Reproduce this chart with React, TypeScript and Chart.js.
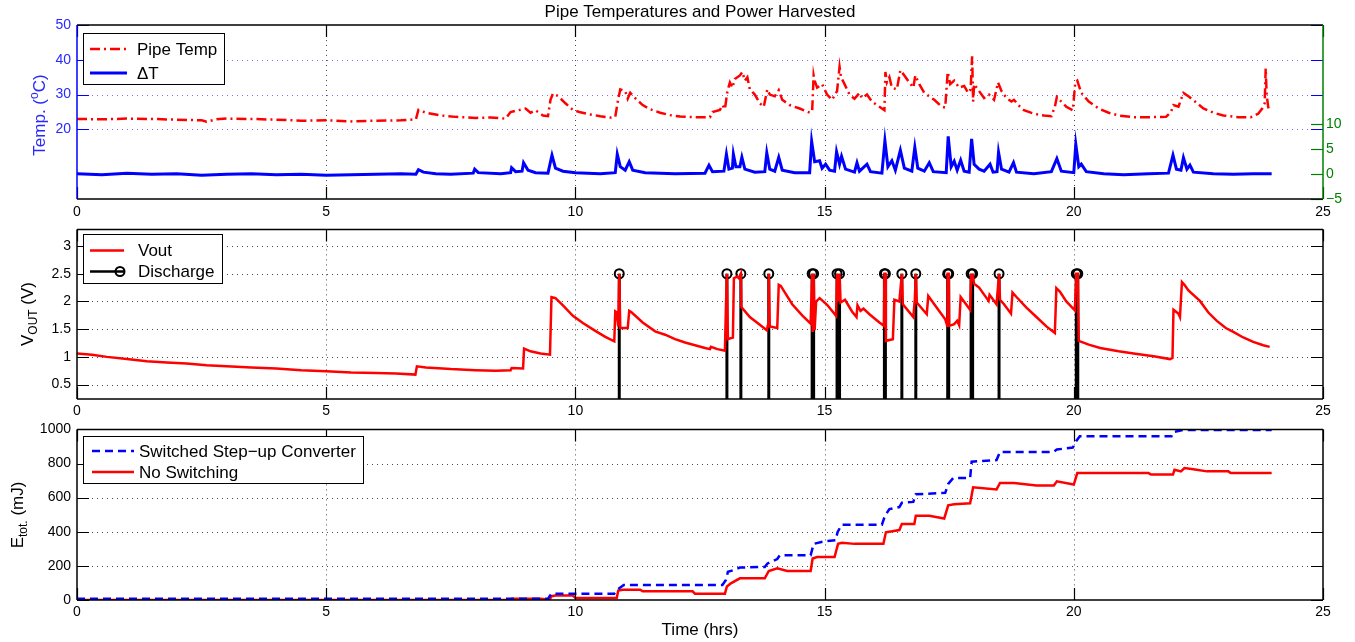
import React, { useEffect, useRef } from "react";
import { Chart, registerables } from "chart.js";
Chart.register(...registerables);

const FONT = '"Liberation Sans", Arial, Helvetica, sans-serif';
const W = 1355;

const chartTitle = "Pipe Temperatures and Power Harvested";
const xAxisLabel = "Time (hrs)";
const xTickValues = [0, 5, 10, 15, 20, 25];
const tempTickValues = [20, 30, 40, 50];
const deltaTickValues = [-5, 0, 5, 10];
const voutTickValues = [0.5, 1, 1.5, 2, 2.5, 3];
const energyTickValues = [0, 200, 400, 600, 800, 1000];

// [time (hrs), pipe temperature (C)]
const pipeTemp: [number, number][] = [
  [0, 23.0], [0.5, 22.9], [1.0, 23.1], [1.5, 23.0], [2.0, 22.8], [2.5, 22.6], [2.6, 22.2], [2.8, 22.9],
  [3.0, 23.1], [3.5, 23.0], [4.0, 22.8], [4.5, 22.5], [5.0, 22.6], [5.5, 22.3], [6.0, 22.5], [6.5, 22.6],
  [6.8, 22.9], [6.85, 25.6], [7.0, 24.8], [7.3, 24.0], [7.6, 23.6], [8.0, 23.3], [8.3, 23.4], [8.6, 23.1],
  [8.7, 25.0], [8.85, 25.5], [9.0, 26.0], [9.1, 24.8], [9.2, 25.5], [9.35, 24.0], [9.45, 23.8], [9.5, 28.5],
  [9.55, 30.3], [9.65, 29.6], [9.8, 27.5], [9.95, 25.6], [10.1, 24.9], [10.3, 24.3], [10.5, 23.8], [10.7, 23.4],
  [10.8, 23.6], [10.85, 28.0], [10.9, 31.5], [11.0, 31.0], [11.05, 28.8], [11.1, 30.5], [11.2, 29.0], [11.35, 27.0],
  [11.5, 25.8], [11.7, 24.8], [11.9, 24.1], [12.1, 23.7], [12.4, 23.5], [12.7, 23.5], [12.75, 25.0], [12.9, 25.6],
  [12.95, 27.0], [13.0, 25.8], [13.05, 31.0], [13.1, 33.5], [13.15, 32.0], [13.2, 34.5], [13.3, 35.5], [13.35, 36.5],
  [13.4, 34.0], [13.45, 35.0], [13.5, 31.5], [13.6, 30.0], [13.7, 27.5], [13.78, 26.5], [13.85, 31.5], [13.9, 30.0],
  [14.0, 29.5], [14.08, 31.3], [14.15, 28.5], [14.3, 27.0], [14.5, 26.0], [14.7, 24.8], [14.75, 25.2], [14.78, 35.5],
  [14.8, 34.0], [14.85, 32.0], [14.95, 33.0], [15.05, 30.0], [15.15, 28.5], [15.25, 31.0], [15.3, 38.0], [15.33, 35.0],
  [15.4, 33.0], [15.5, 30.0], [15.6, 28.8], [15.7, 30.5], [15.75, 29.0], [15.85, 30.0], [15.95, 28.0], [16.1, 26.5],
  [16.2, 25.5], [16.22, 36.5], [16.25, 33.5], [16.3, 35.0], [16.35, 32.0], [16.45, 31.5], [16.52, 37.0], [16.6, 35.5],
  [16.7, 33.5], [16.78, 32.0], [16.82, 35.5], [16.9, 33.0], [17.0, 30.5], [17.1, 29.5], [17.2, 28.5], [17.35, 26.5],
  [17.42, 26.3], [17.47, 36.5], [17.52, 33.0], [17.6, 34.0], [17.7, 32.0], [17.8, 32.5], [17.88, 30.5], [17.93, 31.5],
  [17.96, 41.0], [17.98, 28.0], [18.0, 33.0], [18.1, 31.0], [18.2, 29.0], [18.3, 30.0], [18.4, 28.5], [18.48, 33.5],
  [18.55, 31.0], [18.65, 29.0], [18.75, 28.0], [18.8, 28.5], [18.9, 26.8], [19.0, 25.5], [19.2, 24.5], [19.4, 24.0],
  [19.55, 23.8], [19.62, 26.5], [19.66, 29.3], [19.75, 28.0], [19.85, 26.5], [19.98, 25.5], [20.03, 33.5], [20.07, 34.0],
  [20.15, 30.5], [20.3, 28.0], [20.5, 26.0], [20.7, 24.8], [20.9, 24.0], [21.2, 23.5], [21.5, 23.5], [21.85, 23.6],
  [21.95, 25.0], [22.0, 27.0], [22.1, 26.5], [22.2, 30.5], [22.3, 29.5], [22.45, 27.8], [22.6, 26.0], [22.8, 24.8],
  [23.0, 24.0], [23.3, 23.5], [23.55, 23.5], [23.7, 24.5], [23.78, 26.0], [23.83, 27.5], [23.85, 37.5], [23.87, 30.0],
  [23.9, 26.5], [23.93, 25.0],
];

// [time (hrs), delta T (C)]
const deltaT: [number, number][] = [
  [0, 0.1], [0.5, -0.1], [1.0, 0.2], [1.5, 0], [2.0, 0.1], [2.5, -0.2], [3.0, 0], [3.5, 0.1], [4.0, -0.1],
  [4.5, 0], [5.0, -0.2], [5.5, -0.1], [6.0, 0], [6.5, 0.1], [6.8, 0], [6.85, 0.9], [6.95, 0.4], [7.2, 0.1],
  [7.5, 0], [7.95, 0.2], [7.98, 1.0], [8.05, 0.3], [8.5, 0.1], [8.7, 0.3], [8.72, 1.3], [8.8, 0.5], [8.93, 0.6],
  [8.96, 2.3], [9.05, 0.8], [9.2, 0.3], [9.45, 0.2], [9.5, 2.5], [9.53, 3.8], [9.6, 1.2], [9.75, 0.6], [10.0, 0.3],
  [10.5, 0.1], [10.8, 0.3], [10.84, 4.0], [10.9, 1.5], [11.0, 0.8], [11.08, 2.5], [11.15, 0.8], [11.4, 0.3],
  [12.0, 0.1], [12.6, 0.2], [12.68, 1.8], [12.75, 0.5], [12.98, 0.6], [13.03, 4.0], [13.08, 1.0], [13.15, 1.2],
  [13.17, 4.0], [13.22, 1.5], [13.3, 1.5], [13.34, 3.4], [13.4, 1.0], [13.6, 0.4], [13.8, 0.5], [13.84, 4.3],
  [13.9, 1.0], [14.0, 0.6], [14.08, 3.4], [14.15, 0.8], [14.4, 0.3], [14.7, 0.3], [14.74, 6.6], [14.8, 2.5],
  [14.9, 2.7], [14.95, 1.2], [15.02, 2.0], [15.1, 0.8], [15.2, 0.6], [15.24, 4.5], [15.3, 2.0], [15.34, 3.6],
  [15.42, 1.0], [15.6, 0.4], [15.65, 2.3], [15.7, 0.6], [15.85, 2.0], [15.92, 0.5], [16.15, 0.2], [16.21, 6.7],
  [16.27, 1.5], [16.35, 2.7], [16.42, 0.8], [16.52, 4.8], [16.6, 1.2], [16.75, 0.6], [16.81, 5.4], [16.87, 1.2],
  [17.0, 0.6], [17.1, 2.3], [17.18, 0.5], [17.44, 0.3], [17.48, 7.6], [17.54, 1.5], [17.6, 2.6], [17.66, 0.8],
  [17.73, 2.8], [17.8, 0.6], [17.9, 0.4], [17.95, 7.1], [18.0, 2.0], [18.1, 1.0], [18.2, 0.6], [18.32, 2.0],
  [18.38, 0.4], [18.46, 0.5], [18.49, 4.4], [18.55, 1.0], [18.7, 0.4], [18.79, 2.3], [18.85, 0.4], [19.2, 0.1],
  [19.55, 0.5], [19.66, 3.1], [19.75, 0.6], [20.0, 0.3], [20.04, 6.0], [20.1, 1.5], [20.15, 2.0], [20.25, 0.5],
  [20.6, 0.1], [21.0, -0.1], [21.5, 0.1], [21.9, 0.2], [21.99, 3.8], [22.06, 1.0], [22.15, 0.8], [22.2, 3.3],
  [22.27, 1.0], [22.33, 1.8], [22.4, 0.4], [22.8, 0.1], [23.2, 0], [23.6, 0.1], [23.97, 0.1],
];

// [time (hrs), Vout (V)]
const vout: [number, number][] = [
  [0, 1.06], [0.3, 1.04], [0.6, 1.0], [1.0, 0.96], [1.4, 0.92], [1.8, 0.9], [2.2, 0.88], [2.6, 0.85],
  [3.0, 0.83], [3.5, 0.81], [4.0, 0.79], [4.5, 0.76], [5.0, 0.74], [5.5, 0.72], [6.0, 0.71], [6.4, 0.70],
  [6.79, 0.68], [6.82, 0.83], [7.0, 0.81], [7.5, 0.78], [8.0, 0.76], [8.4, 0.75], [8.7, 0.76], [8.72, 0.80],
  [8.95, 0.79], [8.97, 1.15], [9.1, 1.10], [9.3, 1.06], [9.49, 1.04], [9.52, 2.08], [9.6, 2.06], [9.75, 1.93],
  [9.95, 1.74], [10.15, 1.61], [10.4, 1.47], [10.6, 1.36], [10.78, 1.28], [10.8, 1.82], [10.83, 1.80], [10.86, 1.55],
  [10.88, 2.5], [10.9, 1.52], [11.05, 1.52], [11.08, 1.83], [11.12, 1.81], [11.35, 1.62], [11.6, 1.46], [11.8, 1.40],
  [12.0, 1.32], [12.2, 1.26], [12.4, 1.21], [12.6, 1.16], [12.7, 1.14], [12.72, 1.18], [12.85, 1.14], [13.0, 1.11],
  [13.02, 1.89], [13.04, 2.5], [13.06, 1.32], [13.16, 1.35], [13.18, 2.42], [13.25, 2.45], [13.28, 2.42], [13.32, 2.5],
  [13.33, 1.90], [13.5, 1.72], [13.7, 1.58], [13.84, 1.48], [13.87, 1.60], [13.88, 2.5], [13.9, 1.55], [14.05, 1.52],
  [14.08, 2.30], [14.12, 2.28], [14.35, 1.95], [14.55, 1.75], [14.72, 1.60], [14.75, 2.5], [14.76, 1.45], [14.78, 2.5],
  [14.8, 1.48], [14.83, 2.00], [14.9, 2.06], [15.05, 1.94], [15.23, 1.74], [15.25, 2.5], [15.27, 2.0], [15.3, 2.5],
  [15.32, 1.98], [15.41, 2.03], [15.55, 1.82], [15.64, 1.72], [15.66, 1.93], [15.72, 1.83], [15.78, 1.87], [15.9, 1.77],
  [16.1, 1.62], [16.19, 1.56], [16.2, 2.5], [16.22, 2.5], [16.23, 1.29], [16.37, 1.32], [16.4, 2.03], [16.5, 2.00],
  [16.55, 2.5], [16.57, 1.95], [16.78, 1.72], [16.81, 2.03], [16.83, 2.5], [16.85, 1.98], [17.05, 1.77], [17.08, 2.10],
  [17.42, 1.68], [17.46, 1.56], [17.47, 2.5], [17.49, 2.5], [17.5, 1.56], [17.6, 1.59], [17.66, 1.65], [17.7, 1.57],
  [17.73, 2.08], [17.92, 1.85], [17.94, 2.5], [17.96, 2.39], [17.97, 2.5], [18.0, 2.32], [18.1, 2.25], [18.29, 2.01],
  [18.31, 2.12], [18.45, 1.95], [18.5, 2.5], [18.52, 2.03], [18.6, 1.95], [18.74, 1.78], [18.77, 2.16], [18.85, 2.08],
  [19.05, 1.89], [19.25, 1.72], [19.45, 1.55], [19.62, 1.43], [19.65, 2.24], [19.72, 2.18], [19.85, 2.0], [20.02, 1.84],
  [20.05, 2.5], [20.08, 2.5], [20.1, 1.29], [20.3, 1.22], [20.53, 1.16], [20.9, 1.10], [21.2, 1.06], [21.6, 1.01],
  [21.93, 0.96], [21.98, 0.98], [22.0, 1.85], [22.1, 1.78], [22.13, 1.72], [22.17, 2.35], [22.22, 2.30], [22.3, 2.20],
  [22.53, 2.01], [22.7, 1.80], [22.87, 1.65], [23.05, 1.52], [23.2, 1.45], [23.4, 1.35], [23.6, 1.27], [23.8, 1.21],
  [23.93, 1.18],
];

const dischargeTimes = [10.88, 13.04, 13.32, 13.88, 14.75, 14.78, 15.25, 15.3, 16.2, 16.22, 16.55, 16.83, 17.47, 17.49, 17.94, 17.97, 18.5, 20.05, 20.08];
const dischargeLevel = 2.5;

// [time (hrs), energy (mJ)]
const energySwitched: [number, number][] = [
  [0, 8], [9.45, 8], [9.52, 37], [10.78, 37], [10.84, 60], [10.97, 88], [12.95, 88], [13.02, 117], [13.06, 165],
  [13.17, 175], [13.3, 190], [13.8, 194], [13.85, 213], [14.05, 240], [14.1, 262], [14.72, 262], [14.78, 329],
  [15.0, 344], [15.22, 350], [15.26, 397], [15.34, 441], [16.15, 441], [16.21, 493], [16.3, 533], [16.5, 545],
  [16.55, 570], [16.78, 575], [16.83, 620], [17.42, 628], [17.48, 680], [17.58, 715], [17.92, 715], [17.95, 811],
  [18.45, 820], [18.52, 868], [19.59, 868], [19.66, 882], [19.98, 894], [20.05, 932], [20.12, 960], [21.96, 960],
  [22.0, 984], [22.2, 997], [23.97, 997],
];
const energyNoSwitch: [number, number][] = [
  [0, 0], [8.7, 0], [8.72, 8], [9.3, 8], [9.4, 5], [9.49, 5], [9.52, 22], [9.6, 26], [9.95, 26], [10.0, 12],
  [10.83, 12], [10.86, 55], [10.95, 60], [11.3, 60], [11.35, 51], [12.35, 51], [12.4, 37], [13.0, 37], [13.04, 79],
  [13.12, 98], [13.3, 127], [13.8, 127], [13.88, 170], [14.05, 186], [14.25, 170], [14.72, 170], [14.76, 243],
  [14.85, 252], [15.2, 252], [15.27, 329], [15.35, 335], [15.6, 329], [16.18, 329], [16.23, 397], [16.5, 410],
  [16.55, 445], [16.8, 445], [16.83, 494], [17.1, 494], [17.4, 478], [17.48, 555], [17.6, 561], [17.92, 567],
  [17.98, 661], [18.45, 648], [18.52, 686], [18.8, 686], [19.25, 671], [19.6, 671], [19.66, 696], [20.0, 677],
  [20.07, 744], [21.5, 744], [21.55, 735], [21.99, 735], [22.02, 763], [22.15, 754], [22.22, 773], [22.4, 767],
  [22.67, 754], [23.1, 754], [23.15, 744], [23.97, 744],
];

const toXY = (s: [number, number][]) => s.map(([x, y]) => ({ x, y }));
const fmt = (v: any) => (Number(v) < 0 ? "\u2212" + String(-Number(v)) : String(v));

type Part = { t: string; sub?: boolean; sup?: boolean };

function richText(ctx: CanvasRenderingContext2D, parts: Part[], x: number, y: number, rotate: boolean, color: string, size: number) {
  ctx.save();
  ctx.translate(x, y);
  if (rotate) ctx.rotate(-Math.PI / 2);
  ctx.fillStyle = color;
  ctx.textBaseline = "middle";
  ctx.textAlign = "left";
  const small = Math.round(size * 0.68);
  let total = 0;
  for (const p of parts) {
    ctx.font = `${p.sub || p.sup ? small : size}px ${FONT}`;
    total += ctx.measureText(p.t).width;
  }
  let cx = -total / 2;
  for (const p of parts) {
    ctx.font = `${p.sub || p.sup ? small : size}px ${FONT}`;
    const dy = p.sub ? size * 0.32 : p.sup ? -size * 0.32 : 0;
    ctx.fillText(p.t, cx, dy);
    cx += ctx.measureText(p.t).width;
  }
  ctx.restore();
}

type LegendItem = { label: string; color: string; width: number; dash: number[]; marker?: boolean };
type PanelCfg = {
  offsetY: number;
  yId: string;
  yTicks: number[];
  gridYColor: string;
  leftColor: string;
  rightColor: string;
  right?: { id: string; ticks: number[]; color: string };
  legendBox: [number, number, number, number];
  legendRows: number[];
  legendLineX: [number, number];
  legendTextX: number;
  legend: LegendItem[];
  yLabel: { parts: Part[]; x: number; y: number; color: string };
  title?: { text: string; x: number; y: number };
  xLabel?: { text: string; x: number; y: number };
};

function framePlugin(cfg: PanelCfg) {
  return {
    id: "frame" + cfg.offsetY,
    beforeDatasetsDraw(chart: any) {
      const { ctx, chartArea: a } = chart;
      const xs = chart.scales.x;
      const ys = chart.scales[cfg.yId];
      ctx.save();
      ctx.lineWidth = 1;
      ctx.setLineDash([1, 4]);
      ctx.strokeStyle = "rgba(30,30,30,0.8)";
      for (const v of xTickValues) {
        if (v <= xs.min || v >= xs.max) continue;
        const px = Math.round(xs.getPixelForValue(v)) + 0.5;
        ctx.beginPath();
        ctx.moveTo(px, a.top);
        ctx.lineTo(px, a.bottom);
        ctx.stroke();
      }
      ctx.strokeStyle = cfg.gridYColor;
      for (const v of cfg.yTicks) {
        if (v <= ys.min || v >= ys.max) continue;
        const py = Math.round(ys.getPixelForValue(v)) + 0.5;
        ctx.beginPath();
        ctx.moveTo(a.left, py);
        ctx.lineTo(a.right, py);
        ctx.stroke();
      }
      ctx.restore();
    },
    afterDraw(chart: any) {
      const { ctx, chartArea: a } = chart;
      const xs = chart.scales.x;
      const ys = chart.scales[cfg.yId];
      const T = 12;
      ctx.save();
      ctx.setLineDash([]);
      ctx.lineWidth = 1.2;
      ctx.strokeStyle = "#000";
      for (const v of xTickValues) {
        const px = Math.round(xs.getPixelForValue(v)) + 0.5;
        ctx.beginPath();
        ctx.moveTo(px, a.top);
        ctx.lineTo(px, a.top + T);
        ctx.moveTo(px, a.bottom);
        ctx.lineTo(px, a.bottom - T);
        ctx.stroke();
      }
      ctx.strokeStyle = cfg.leftColor;
      for (const v of cfg.yTicks) {
        const py = Math.round(ys.getPixelForValue(v)) + 0.5;
        ctx.beginPath();
        ctx.moveTo(a.left, py);
        ctx.lineTo(a.left + T, py);
        ctx.moveTo(a.right, py);
        ctx.lineTo(a.right - T, py);
        ctx.stroke();
      }
      if (cfg.right) {
        const rs = chart.scales[cfg.right.id];
        ctx.strokeStyle = cfg.right.color;
        for (const v of cfg.right.ticks) {
          const py = Math.round(rs.getPixelForValue(v)) + 0.5;
          ctx.beginPath();
          ctx.moveTo(a.right, py);
          ctx.lineTo(a.right - T, py);
          ctx.stroke();
        }
      }
      ctx.lineWidth = 1.5;
      ctx.strokeStyle = "#000";
      ctx.beginPath();
      ctx.moveTo(a.left, a.top);
      ctx.lineTo(a.right, a.top);
      ctx.moveTo(a.left, a.bottom);
      ctx.lineTo(a.right, a.bottom);
      ctx.stroke();
      ctx.strokeStyle = cfg.leftColor;
      ctx.beginPath();
      ctx.moveTo(a.left, a.top);
      ctx.lineTo(a.left, a.bottom);
      ctx.stroke();
      ctx.strokeStyle = cfg.rightColor;
      ctx.beginPath();
      ctx.moveTo(a.right, a.top);
      ctx.lineTo(a.right, a.bottom);
      ctx.stroke();

      // page coordinates from here
      ctx.translate(0, -cfg.offsetY);
      const [bx, by, bw, bh] = cfg.legendBox;
      ctx.fillStyle = "#fff";
      ctx.fillRect(bx, by, bw, bh);
      ctx.strokeStyle = "#000";
      ctx.lineWidth = 1;
      ctx.strokeRect(bx + 0.5, by + 0.5, bw, bh);
      cfg.legend.forEach((it, i) => {
        const ly = cfg.legendRows[i];
        ctx.strokeStyle = it.color;
        ctx.lineWidth = it.width;
        ctx.setLineDash(it.dash);
        ctx.beginPath();
        ctx.moveTo(cfg.legendLineX[0], ly);
        ctx.lineTo(cfg.legendLineX[1], ly);
        ctx.stroke();
        ctx.setLineDash([]);
        if (it.marker) {
          ctx.lineWidth = 2;
          ctx.beginPath();
          ctx.arc(cfg.legendLineX[1] - 4, ly, 4.5, 0, Math.PI * 2);
          ctx.stroke();
        }
        ctx.fillStyle = "#000";
        ctx.font = `17px ${FONT}`;
        ctx.textBaseline = "middle";
        ctx.textAlign = "left";
        ctx.fillText(it.label, cfg.legendTextX, ly + 1);
      });
      richText(ctx, cfg.yLabel.parts, cfg.yLabel.x, cfg.yLabel.y, true, cfg.yLabel.color, 17);
      if (cfg.title) richText(ctx, [{ t: cfg.title.text }], cfg.title.x, cfg.title.y, false, "#000", 17);
      if (cfg.xLabel) richText(ctx, [{ t: cfg.xLabel.text }], cfg.xLabel.x, cfg.xLabel.y, false, "#000", 17);
      ctx.restore();
    },
  };
}

function xScale(height: number, padding: number) {
  return {
    type: "linear",
    position: "bottom",
    min: 0,
    max: 25,
    afterBuildTicks: (s: any) => {
      s.ticks = xTickValues.map((v) => ({ value: v }));
    },
    afterFit: (s: any) => {
      s.height = height;
    },
    grid: { display: false, drawTicks: false },
    border: { display: false },
    ticks: { font: { family: FONT, size: 14 }, color: "#000", padding, autoSkip: false, maxRotation: 0, callback: fmt },
  };
}

function yScale(position: string, min: number, max: number, ticks: number[], width: number, color: string, padding: number) {
  return {
    type: "linear",
    position,
    min,
    max,
    afterBuildTicks: (s: any) => {
      s.ticks = ticks.map((v) => ({ value: v }));
    },
    afterFit: (s: any) => {
      s.width = width;
    },
    grid: { display: false, drawTicks: false },
    border: { display: false },
    ticks: { font: { family: FONT, size: 14 }, color, padding, autoSkip: false, callback: fmt },
  };
}

const baseOptions = (padTop: number, padRight: number) => ({
  responsive: false,
  animation: false,
  events: [],
  layout: { padding: { top: padTop, left: 0, right: padRight, bottom: 0 }, autoPadding: false },
  plugins: { legend: { display: false }, tooltip: { enabled: false }, title: { display: false } },
  elements: { point: { radius: 0 }, line: { tension: 0 } },
});

export default function App() {
  const c1 = useRef<HTMLCanvasElement>(null);
  const c2 = useRef<HTMLCanvasElement>(null);
  const c3 = useRef<HTMLCanvasElement>(null);

  useEffect(() => {
    const charts: Chart[] = [];
    const blue = "rgb(0,0,255)";
    const red = "rgb(255,0,0)";
    const green = "rgb(0,128,0)";

    charts.push(
      new Chart(c1.current as HTMLCanvasElement, {
        type: "line",
        data: {
          datasets: [
            { label: "Pipe Temp", data: toXY(pipeTemp), yAxisID: "y", borderColor: red, borderWidth: 2.5, borderDash: [10, 4, 2, 4], pointRadius: 0 },
            { label: "ΔT", data: toXY(deltaT), yAxisID: "y2", borderColor: blue, borderWidth: 3, pointRadius: 0 },
          ],
        },
        options: {
          ...baseOptions(25, 0),
          scales: {
            x: xScale(26, 5),
            y: yScale("left", 0, 50, tempTickValues, 77, "rgb(40,40,255)", 6),
            y2: yScale("right", -5, 30, deltaTickValues, 32, green, 3),
          },
        } as any,
        plugins: [
          framePlugin({
            offsetY: 0,
            yId: "y",
            yTicks: tempTickValues,
            gridYColor: "rgba(90,90,255,0.85)",
            leftColor: blue,
            rightColor: green,
            right: { id: "y2", ticks: deltaTickValues, color: green },
            legendBox: [83, 33, 141, 51],
            legendRows: [49, 73],
            legendLineX: [90, 127],
            legendTextX: 137,
            legend: [
              { label: "Pipe Temp", color: red, width: 2.5, dash: [10, 4, 2, 4] },
              { label: "ΔT", color: blue, width: 3, dash: [] },
            ],
            yLabel: { parts: [{ t: "Temp. (" }, { t: "o", sup: true }, { t: "C)" }], x: 40, y: 115, color: "rgb(40,40,255)" },
            title: { text: chartTitle, x: 700, y: 12 },
          }),
        ] as any,
      })
    );

    charts.push(
      new Chart(c2.current as HTMLCanvasElement, {
        type: "line",
        data: {
          datasets: [
            { label: "Vout", data: toXY(vout), yAxisID: "y", borderColor: red, borderWidth: 2.5, pointRadius: 0 },
            {
              label: "Discharge",
              data: dischargeTimes.flatMap((t) => [
                { x: t, y: 0 },
                { x: t, y: dischargeLevel },
                { x: t, y: null },
              ]),
              yAxisID: "y",
              borderColor: "#000",
              borderWidth: 3,
              pointRadius: (c: any) => (c.raw && c.raw.y === dischargeLevel ? 4.5 : 0),
              pointBorderColor: "#000",
              pointBackgroundColor: "rgba(0,0,0,0)",
              pointBorderWidth: 2,
              spanGaps: false,
            },
          ],
        },
        options: {
          ...baseOptions(11, 32),
          scales: {
            x: xScale(26, 4),
            y: yScale("left", 0.24, 3.3, voutTickValues, 77, "#000", 6),
          },
        } as any,
        plugins: [
          framePlugin({
            offsetY: 215,
            yId: "y",
            yTicks: voutTickValues,
            gridYColor: "rgba(30,30,30,0.8)",
            leftColor: "#000",
            rightColor: "#000",
            legendBox: [83, 234, 139, 49],
            legendRows: [250.5, 271.5],
            legendLineX: [90, 124],
            legendTextX: 138,
            legend: [
              { label: "Vout", color: red, width: 2.5, dash: [] },
              { label: "Discharge", color: "#000", width: 2.5, dash: [], marker: true },
            ],
            yLabel: { parts: [{ t: "V" }, { t: "OUT", sub: true }, { t: " (V)" }], x: 28, y: 314, color: "#000" },
          }),
        ] as any,
      })
    );

    charts.push(
      new Chart(c3.current as HTMLCanvasElement, {
        type: "line",
        data: {
          datasets: [
            { label: "Switched Step−up Converter", data: toXY(energySwitched), yAxisID: "y", borderColor: blue, borderWidth: 2.5, borderDash: [8, 5], pointRadius: 0 },
            { label: "No Switching", data: toXY(energyNoSwitch), yAxisID: "y", borderColor: red, borderWidth: 2.5, pointRadius: 0 },
          ],
        },
        options: {
          ...baseOptions(12, 32),
          scales: {
            x: xScale(42, 4),
            y: yScale("left", 0, 1000, energyTickValues, 77, "#000", 6),
          },
        } as any,
        plugins: [
          framePlugin({
            offsetY: 415,
            yId: "y",
            yTicks: energyTickValues,
            gridYColor: "rgba(30,30,30,0.8)",
            leftColor: "#000",
            rightColor: "#000",
            legendBox: [83, 436, 280, 47],
            legendRows: [451, 472],
            legendLineX: [92, 134],
            legendTextX: 139,
            legend: [
              { label: "Switched Step−up Converter", color: blue, width: 2.5, dash: [8, 5] },
              { label: "No Switching", color: red, width: 2.5, dash: [] },
            ],
            yLabel: { parts: [{ t: "E" }, { t: "tot.", sub: true }, { t: " (mJ)" }], x: 18, y: 515, color: "#000" },
            xLabel: { text: xAxisLabel, x: 700, y: 630 },
          }),
        ] as any,
      })
    );

    return () => charts.forEach((c) => c.destroy());
  }, []);

  const cs = (top: number): React.CSSProperties => ({ position: "absolute", left: 0, top, display: "block" });
  return (
    <div style={{ position: "absolute", left: 0, top: 0, width: W, height: 642, background: "#fff", overflow: "hidden" }}>
      <canvas ref={c1} width={W} height={225} style={cs(0)} />
      <canvas ref={c2} width={W} height={210} style={cs(215)} />
      <canvas ref={c3} width={W} height={227} style={cs(415)} />
    </div>
  );
}
